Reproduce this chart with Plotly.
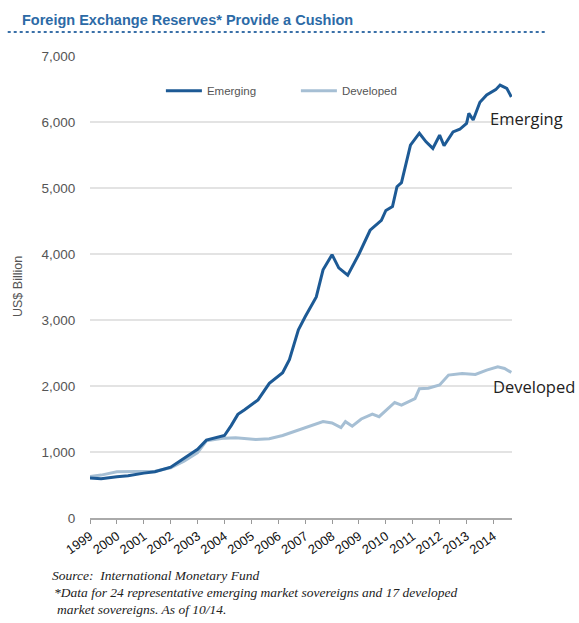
import plotly.graph_objects as go

# ---- data (US$ billion) ----
emerging_dates = ["1999-01-01", "1999-06-01", "2000-01-01", "2000-06-01", "2001-01-01", "2001-06-01",
                  "2002-01-01", "2002-07-01", "2003-01-01", "2003-05-01", "2004-01-01", "2004-04-01",
                  "2004-07-01", "2004-10-01", "2005-04-01", "2005-09-01", "2006-03-01", "2006-06-01",
                  "2006-10-01", "2007-01-01", "2007-06-01", "2007-09-01", "2008-01-01", "2008-04-01",
                  "2008-08-01", "2009-01-01", "2009-06-01", "2009-11-01", "2010-01-01", "2010-04-01",
                  "2010-06-01", "2010-08-01", "2010-10-01", "2010-12-01", "2011-04-01", "2011-07-01",
                  "2011-10-01", "2012-01-01", "2012-03-01", "2012-05-01", "2012-07-01", "2012-10-01",
                  "2013-01-01", "2013-02-01", "2013-04-01", "2013-07-01", "2013-10-01", "2014-02-01",
                  "2014-04-01", "2014-07-01", "2014-09-01"]
emerging_vals = [605, 595, 625, 640, 680, 700,
                 770, 900, 1040, 1180, 1250, 1400,
                 1570, 1640, 1790, 2040, 2200, 2400,
                 2850, 3050, 3350, 3760, 3990, 3790,
                 3680, 4000, 4360, 4510, 4660, 4720,
                 5020, 5080, 5380, 5650, 5830, 5700,
                 5600, 5800, 5640, 5750, 5850, 5890,
                 5980, 6130, 6030, 6300, 6410, 6490,
                 6560, 6510, 6380]

developed_dates = ["1999-01-01", "1999-06-01", "2000-01-01", "2000-06-01", "2001-01-01", "2001-06-01",
                   "2002-01-01", "2002-07-01", "2003-01-01", "2003-05-01", "2004-01-01", "2004-06-01",
                   "2005-03-01", "2005-09-01", "2006-03-01", "2006-10-01", "2007-04-01", "2007-09-01",
                   "2008-01-01", "2008-05-01", "2008-07-01", "2008-10-01", "2009-02-01", "2009-07-01",
                   "2009-10-01", "2010-05-01", "2010-08-01", "2011-02-01", "2011-04-01", "2011-08-01",
                   "2012-01-01", "2012-05-01", "2012-11-01", "2013-05-01", "2013-10-01", "2014-03-01",
                   "2014-06-01", "2014-09-01"]
developed_vals = [630, 650, 700, 700, 700, 710,
                  760, 860, 990, 1170, 1210, 1215,
                  1190, 1200, 1250, 1330, 1400, 1460,
                  1440, 1370, 1460, 1390, 1500, 1575,
                  1535, 1750, 1710, 1810, 1960, 1965,
                  2015, 2165, 2190, 2175, 2240, 2290,
                  2265, 2205]

year_ticks = [str(y) for y in range(1999, 2015)]
y_ticks = [0, 1000, 2000, 3000, 4000, 5000, 6000, 7000]

EM_COLOR = "#1d5a95"
DEV_COLOR = "#a6bfd4"

fig = go.Figure()
fig.add_trace(go.Scatter(x=developed_dates, y=developed_vals, mode="lines", name="Developed",
                         line=dict(color=DEV_COLOR, width=3)))
fig.add_trace(go.Scatter(x=emerging_dates, y=emerging_vals, mode="lines", name="Emerging",
                         line=dict(color=EM_COLOR, width=3)))

fig.update_layout(
    width=579, height=623,
    margin=dict(l=90, r=67, t=56, b=105, autoexpand=False),
    paper_bgcolor="white", plot_bgcolor="white",
    font=dict(family="Liberation Sans, Arial, sans-serif", size=12, color="#555555"),
    showlegend=True,
    legend=dict(orientation="h", x=0.168, y=0.925, xanchor="left", yanchor="middle",
                traceorder="reversed", font=dict(size=11.5, color="#555555"),
                bgcolor="rgba(0,0,0,0)", itemwidth=36, entrywidth=84),
)

fig.update_xaxes(
    type="date",
    range=["1999-01-01", "2014-09-10"],
    tickvals=[f"{y}-01-01" for y in year_ticks],
    ticktext=year_ticks,
    tickangle=-35,
    ticks="outside", ticklen=4, tickcolor="#999999",
    showline=True, linecolor="#aaaaaa", linewidth=1.5,
    showgrid=False, zeroline=False, automargin=False,
    tickfont=dict(size=13, color="#111111"),
)
fig.update_yaxes(
    range=[0, 7000],
    tickvals=y_ticks,
    ticktext=[f"{v:,}" for v in y_ticks],
    showgrid=True, gridcolor="#e3e3e3", gridwidth=1.5,
    zeroline=False, showline=False, automargin=False,
    ticks="outside", ticklen=11, tickcolor="rgba(0,0,0,0)",
    tickfont=dict(size=13.5, color="#555555"),
)

# Y axis title
fig.add_annotation(xref="paper", yref="paper", x=0, xshift=-72, y=0.5, xanchor="center", yanchor="middle",
                   text="US$ Billion", textangle=-90, showarrow=False,
                   font=dict(size=12.5, color="#555555"))

# Title
fig.add_annotation(xref="paper", yref="paper", x=-0.165, y=1.0, yshift=26, xanchor="left", yanchor="bottom",
                   text="<b>Foreign Exchange Reserves* Provide a Cushion</b>", showarrow=False,
                   font=dict(family="Liberation Sans, Arial, sans-serif", size=14.5, color="#2c6aa6"))
fig.add_shape(type="line", xref="paper", yref="paper", x0=-0.195, x1=1.08, y0=1.052, y1=1.052,
              line=dict(color="#3a70a8", width=2, dash="dot"))

# Series labels
lab_font = dict(family="Open Sans, Noto Sans, sans-serif", size=16.5, color="#222222")
fig.add_annotation(xref="paper", yref="y", x=0.943, y=6050, xanchor="left", yanchor="middle",
                   text="Emerging", showarrow=False, font=lab_font)
fig.add_annotation(xref="paper", yref="y", x=0.95, y=1990, xanchor="left", yanchor="middle",
                   text="Developed", showarrow=False, font=lab_font)

# Footer
foot_font = dict(family="Liberation Serif, Times New Roman, serif", size=13.5, color="#222222")
fig.add_annotation(xref="paper", yref="paper", x=-0.095, y=0, yshift=-57, xanchor="left", yanchor="middle",
                   text="<i>Source:  International Monetary Fund</i>", showarrow=False, font=foot_font)
fig.add_annotation(xref="paper", yref="paper", x=-0.09, y=0, yshift=-74, xanchor="left", yanchor="middle",
                   text="<i>*Data for 24 representative emerging market sovereigns and 17 developed</i>",
                   showarrow=False, font=foot_font)
fig.add_annotation(xref="paper", yref="paper", x=-0.083, y=0, yshift=-91, xanchor="left", yanchor="middle",
                   text="<i>market sovereigns. As of 10/14.</i>", showarrow=False, font=foot_font)

fig.write_html("out.html", config={"displayModeBar": False},
               post_script="document.body.style.margin='0';")
